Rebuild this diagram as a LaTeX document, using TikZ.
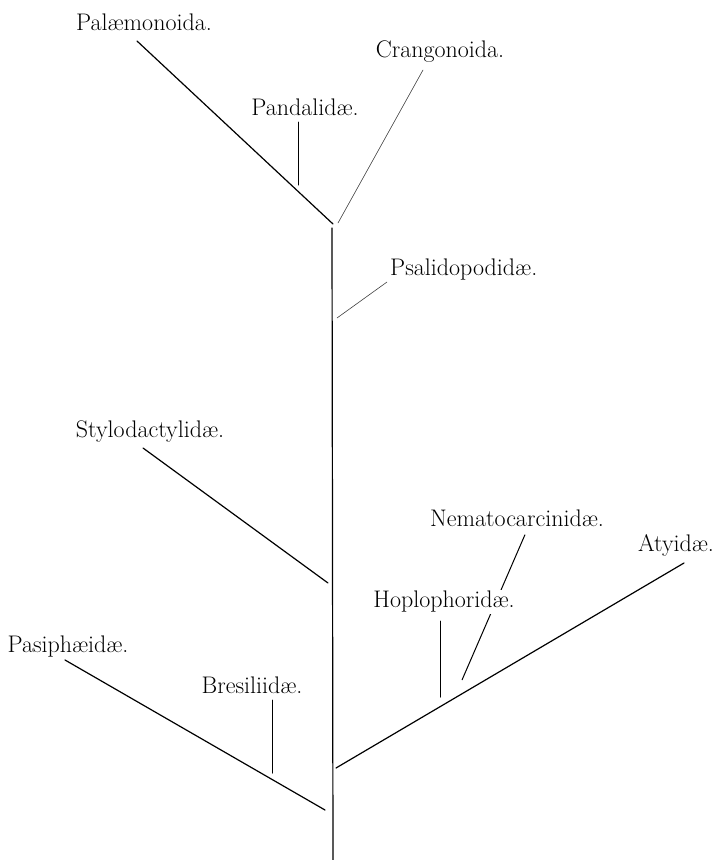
\documentclass[tikz,border=0pt]{standalone}
\usepackage{fontspec}
\usetikzlibrary{positioning,backgrounds}
\tikzset{
	tree/.style={x=1pt,y=-1pt,line cap=round},
	taxon/.style={font=\fontsize{24}{28}\selectfont,inner sep=1pt},
	branch/.style={line width=1.2pt},
	twig/.style={line width=1pt},
	faint/.style={line width=0.6pt,black!75}
}

\begin{document}
\begin{tikzpicture}[tree]
	\useasboundingbox (0,0) rectangle (718,860);
	
	% trunk and forks
	\coordinate (top) at (332,228);
	\coordinate (base) at (333,860);
	\coordinate (palaeend) at (333,224);
	\coordinate (crangend) at (338,223);
	\coordinate (psalend) at (337,318);
	\coordinate (styloend) at (328,583);
	\coordinate (pasiend) at (325,810);
	\coordinate (atyroot) at (336,768);
	\coordinate (pandend) at (298,185);
	\coordinate (bresend) at (272,773);
	\coordinate (hoplend) at (440,697);
	\coordinate (nemaend) at (462,680);
	
	% labels
	\node[taxon] (palae) at (144,22) {Palæmonoida.};
	\node[taxon] (pand) at (305,107) {Pandalidæ.};
	\node[taxon] (crang) at (440,52) {Crangonoida.};
	\node[taxon,anchor=west] (psal) at (389,270) {Psalidopodidæ.};
	\node[taxon] (stylo) at (150,432) {Stylodactylidæ.};
	\node[taxon] (pasi) at (68,647) {Pasiphæidæ.};
	\node[taxon] (bres) at (252,685) {Bresiliidæ.};
	\node[taxon] (nema) at (517,518) {Nematocarcinidæ.};
	\node[taxon] (aty) at (676,545) {Atyidæ.};
	
	\begin{scope}[on background layer]
		\draw[twig] (nema.south) ++(8,7) coordinate (nemtop) -- (nemaend);
	\end{scope}
	\node[taxon,fill=white] (hopl) at (444,602) {Hoplophoridæ.};
	
	\draw[branch] (top) -- (base);
	\draw[branch] (137,41) coordinate (palaetip) -- (palaeend);
	\draw[faint] (423,70) coordinate (crangtip) -- (crangend);
	\draw[twig] (298,122) coordinate (pandtip) -- (pandend);
	\draw[faint] (387,282) coordinate (psaltip) -- (psalend);
	\draw[branch] (143,448) coordinate (stylotip) -- (styloend);
	\draw[branch] (65,660) coordinate (pasitip) -- (pasiend);
	\draw[twig] (272,700) coordinate (brestip) -- (bresend);
	\draw[branch] (atyroot) -- (684,563) coordinate (atytip);
	\draw[twig] (440,621) coordinate (hopltip) -- (hoplend);
\end{tikzpicture}
\end{document}
